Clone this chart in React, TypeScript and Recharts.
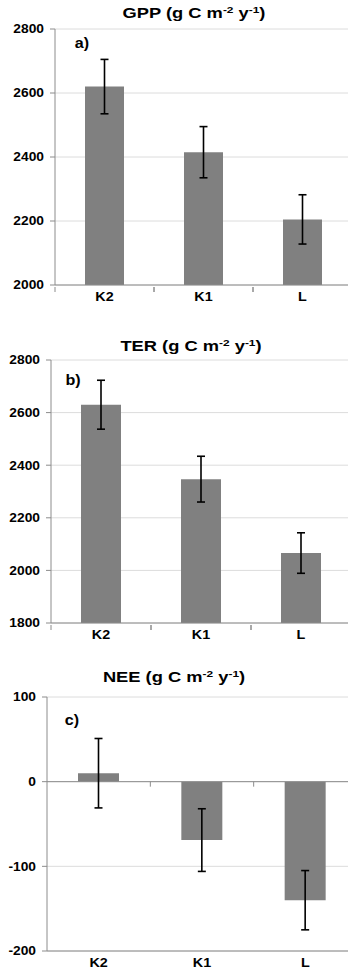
import React from "react";
import {
  BarChart,
  Bar,
  XAxis,
  YAxis,
  CartesianGrid,
  ErrorBar,
  ReferenceLine,
} from "recharts";

const sites = ["K2", "K1", "L"];

const gpp = [2620, 2415, 2205];
const gppErr = [85, 80, 77];

const ter = [2630, 2347, 2066];
const terErr = [93, 87, 77];

const nee = [10, -69, -140];
const neeErr = [41, 37, 35];

const gppTicks = [2000, 2200, 2400, 2600, 2800];
const terTicks = [1800, 2000, 2200, 2400, 2600, 2800];
const neeTicks = [-200, -100, 0, 100];

const FONT = '"Liberation Sans", Arial, sans-serif';
const AXIS = "#8c8c8c";
const GRID = "#dcdcdc";
const BAR = "#808080";

const rows = (values: number[], errs: number[]) =>
  sites.map((site, i) => ({ site, value: values[i], err: errs[i] }));

function YTick(props: any) {
  const { x, y, payload } = props;
  return (
    <text
      transform={`translate(${x} ${y}) scale(1.15 1)`}
      dy="0.36em"
      textAnchor="end"
      fontFamily={FONT}
      fontWeight="bold"
      fontSize={12}
      fill="#000"
    >
      {payload.value}
    </text>
  );
}

// category label centred in its band, with small ticks on the band edges
function XTick(props: any) {
  const { x, y, payload, edgeTicks, width, visibleTicksCount } = props;
  let half = payload.offset || 0;
  if (!half && width && visibleTicksCount) half = width / visibleTicksCount / 2;
  return (
    <g>
      {edgeTicks && half > 0 && (
        <>
          <line x1={x - half} x2={x - half} y1={y} y2={y + 5} stroke={AXIS} />
          <line x1={x + half} x2={x + half} y1={y} y2={y + 5} stroke={AXIS} />
        </>
      )}
      <text
        transform={`translate(${x} ${y}) scale(1.15 1)`}
        dy={14}
        textAnchor="middle"
        fontFamily={FONT}
        fontWeight="bold"
        fontSize={12.5}
        fill="#000"
      >
        {payload.value}
      </text>
    </g>
  );
}

// zero line of the NEE panel, ticked at the category boundaries
function ZeroAxis(props: any) {
  const { x1, x2, y1 } = props;
  if (x1 == null || x2 == null || y1 == null) return null;
  const step = (x2 - x1) / sites.length;
  return (
    <g>
      <line x1={x1} x2={x2} y1={y1} y2={y1} stroke={AXIS} />
      {sites.slice(1).map((s, i) => (
        <line
          key={s}
          x1={x1 + step * (i + 1)}
          x2={x1 + step * (i + 1)}
          y1={y1}
          y2={y1 + 5}
          stroke={AXIS}
        />
      ))}
    </g>
  );
}

function Title({ x, y, name }: { x: number; y: number; name: string }) {
  return (
    <div
      style={{
        position: "absolute",
        left: x,
        top: y,
        transform: "translate(-50%, -50%) scaleX(1.22)",
        fontFamily: FONT,
        fontWeight: "bold",
        fontSize: 15,
        lineHeight: "18px",
        whiteSpace: "nowrap",
        color: "#000",
      }}
    >
      {name} (g C m
      <sup style={{ fontSize: "0.65em", lineHeight: 0, verticalAlign: "0.55em" }}>-2</sup> y
      <sup style={{ fontSize: "0.65em", lineHeight: 0, verticalAlign: "0.55em" }}>-1</sup>)
    </div>
  );
}

function PanelLabel({ x, y, text }: { x: number; y: number; text: string }) {
  return (
    <div
      style={{
        position: "absolute",
        left: x,
        top: y,
        transform: "translate(-50%, -50%) scaleX(1.15)",
        fontFamily: FONT,
        fontWeight: "bold",
        fontSize: 14,
        lineHeight: "16px",
        color: "#000",
      }}
    >
      {text}
    </div>
  );
}

type PanelProps = {
  top: number;
  height: number;
  marginTop: number;
  marginRight: number;
  yWidth: number;
  barSize: number;
  domain: [number, number];
  ticks: number[];
  data: { site: string; value: number; err: number }[];
  zeroLine?: boolean;
};

function Panel(p: PanelProps) {
  return (
    <div style={{ position: "absolute", left: 0, top: p.top }}>
      <BarChart
        width={362}
        height={p.height}
        data={p.data}
        margin={{ top: p.marginTop, right: p.marginRight, left: 0, bottom: 5 }}
      >
        <CartesianGrid vertical={false} stroke={GRID} />
        <XAxis
          dataKey="site"
          height={20}
          axisLine={{ stroke: AXIS }}
          tickLine={false}
          tickSize={0}
          tick={<XTick edgeTicks={!p.zeroLine} />}
          interval={0}
        />
        <YAxis
          width={p.yWidth}
          domain={p.domain}
          ticks={p.ticks}
          allowDataOverflow
          axisLine={{ stroke: AXIS }}
          tickLine={{ stroke: AXIS }}
          tickSize={5}
          tickMargin={6}
          tick={<YTick />}
        />
        {p.zeroLine && <ReferenceLine y={0} stroke={AXIS} shape={ZeroAxis} />}
        <Bar dataKey="value" fill={BAR} barSize={p.barSize} isAnimationActive={false}>
          <ErrorBar
            dataKey="err"
            direction="y"
            width={4}
            stroke="#000"
            strokeWidth={1.6}
            isAnimationActive={false}
          />
        </Bar>
      </BarChart>
    </div>
  );
}

export default function App() {
  return (
    <div
      style={{
        position: "absolute",
        left: 0,
        top: 0,
        width: 348,
        height: 973,
        overflow: "hidden",
        background: "#fff",
      }}
    >
      <Panel
        top={0}
        height={310}
        marginTop={29}
        marginRight={10}
        yWidth={55}
        barSize={39}
        domain={[2000, 2800]}
        ticks={gppTicks}
        data={rows(gpp, gppErr)}
      />
      <Panel
        top={330}
        height={318}
        marginTop={30}
        marginRight={11}
        yWidth={51}
        barSize={40}
        domain={[1800, 2800]}
        ticks={terTicks}
        data={rows(ter, terErr)}
      />
      <Panel
        top={660}
        height={316}
        marginTop={37}
        marginRight={5}
        yWidth={47}
        barSize={41}
        domain={[-200, 100]}
        ticks={neeTicks}
        data={rows(nee, neeErr)}
        zeroLine
      />
      <Title x={194} y={13} name="GPP" />
      <Title x={191} y={346} name="TER" />
      <Title x={174} y={677} name="NEE" />
      <PanelLabel x={82} y={43} text="a)" />
      <PanelLabel x={73} y={380} text="b)" />
      <PanelLabel x={72} y={720} text="c)" />
    </div>
  );
}
